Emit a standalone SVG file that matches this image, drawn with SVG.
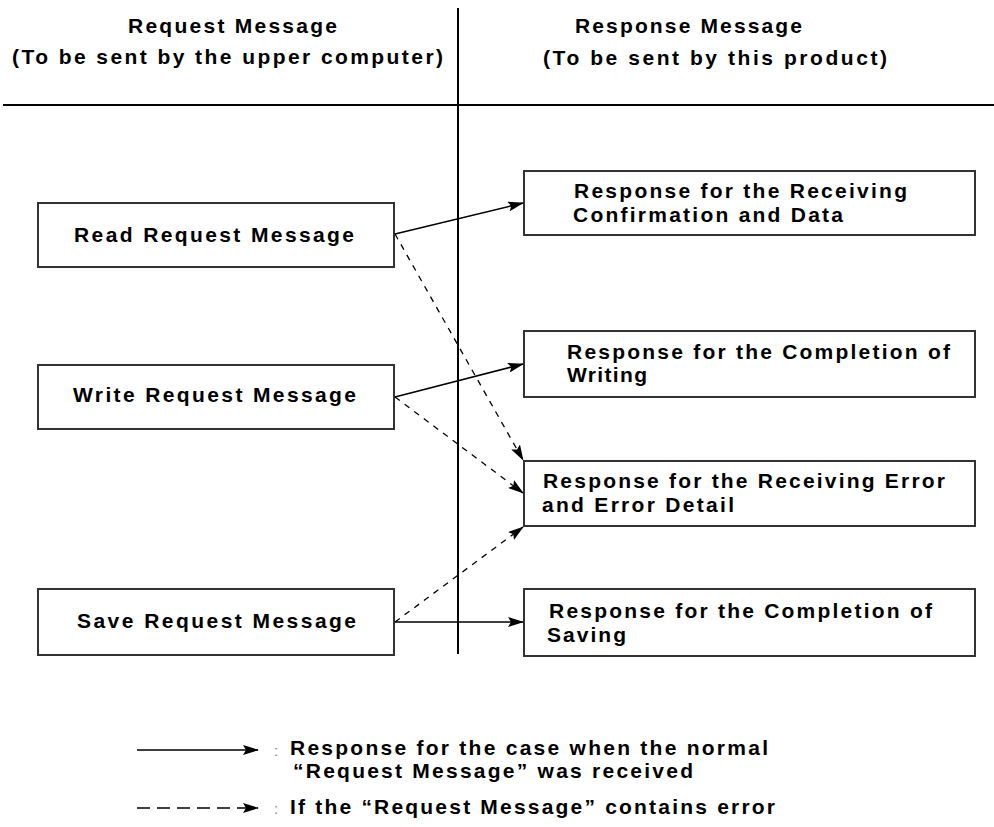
<svg xmlns="http://www.w3.org/2000/svg" width="994" height="827" viewBox="0 0 994 827">
  <style>
    .bg { fill: #ffffff; }
    .box { fill: #ffffff; stroke: #333333; stroke-width: 2; }
    .t { font-family: "Liberation Sans", Arial, sans-serif; font-weight: bold; font-size: 21px; fill: #000000; }
    .hdr { font-family: "Liberation Sans", Arial, sans-serif; font-weight: bold; font-size: 21px; fill: #000000; }
    .colon { font-family: "Liberation Sans", Arial, sans-serif; font-size: 15px; fill: #888888; }
    .rule { stroke: #000000; stroke-width: 2; fill: none; }
    .solid { stroke: #000000; stroke-width: 1.5; fill: none; marker-end: url(#arrow); }
    .dashed { stroke: #000000; stroke-width: 1.3; fill: none; stroke-dasharray: 6 6; marker-end: url(#arrow); }
    .legdash { stroke: #000000; stroke-width: 1.5; fill: none; stroke-dasharray: 13 7; marker-end: url(#arrow); }
  </style>
  <defs>
    <marker id="arrow" viewBox="0 0 16 10" refX="15" refY="5" markerWidth="16" markerHeight="10" markerUnits="userSpaceOnUse" orient="auto">
      <path d="M0,0 L16,5 L0,10 L3,5 Z" fill="#000000"/>
    </marker>
  </defs>
  <rect class="bg" x="0" y="0" width="994" height="827"/>

  <g id="header">
    <text class="hdr" x="128" y="33" textLength="209">Request Message</text>
    <text class="hdr" x="12" y="64" textLength="431">(To be sent by the upper computer)</text>
    <text class="hdr" x="575" y="33" textLength="227">Response Message</text>
    <text class="hdr" x="543" y="65" textLength="344">(To be sent by this product)</text>
    <line class="rule" x1="3" y1="105" x2="994" y2="105"/>
    <line class="rule" x1="458" y1="8" x2="458" y2="654"/>
  </g>

  <g id="read-request">
    <rect class="box" x="38" y="203" width="356" height="64"/>
    <text class="t" x="74" y="242" textLength="280">Read Request Message</text>
  </g>
  <g id="write-request">
    <rect class="box" x="38" y="365" width="356" height="64"/>
    <text class="t" x="73" y="402" textLength="283">Write Request Message</text>
  </g>
  <g id="save-request">
    <rect class="box" x="38" y="589" width="356" height="66"/>
    <text class="t" x="77" y="628" textLength="279">Save Request Message</text>
  </g>

  <g id="resp-confirmation">
    <rect class="box" x="524" y="171" width="451" height="64"/>
    <text class="t" x="574" y="198" textLength="333">Response for the Receiving</text>
    <text class="t" x="573" y="222" textLength="270">Confirmation and Data</text>
  </g>
  <g id="resp-writing">
    <rect class="box" x="524" y="331" width="451" height="66"/>
    <text class="t" x="567" y="359" textLength="383">Response for the Completion of</text>
    <text class="t" x="567" y="382" textLength="80">Writing</text>
  </g>
  <g id="resp-error">
    <rect class="box" x="524" y="461" width="451" height="65"/>
    <text class="t" x="543" y="488" textLength="402">Response for the Receiving Error</text>
    <text class="t" x="542" y="512" textLength="192">and Error Detail</text>
  </g>
  <g id="resp-saving">
    <rect class="box" x="524" y="589" width="451" height="67"/>
    <text class="t" x="549" y="618" textLength="383">Response for the Completion of</text>
    <text class="t" x="547" y="642" textLength="79">Saving</text>
  </g>

  <g id="connectors">
    <line class="solid" x1="395" y1="234" x2="523" y2="203"/>
    <line class="dashed" x1="395" y1="234" x2="523" y2="460"/>
    <line class="solid" x1="395" y1="397" x2="523" y2="364"/>
    <line class="dashed" x1="395" y1="397" x2="523" y2="493"/>
    <line class="dashed" x1="395" y1="622" x2="523" y2="527"/>
    <line class="solid" x1="395" y1="622" x2="523" y2="622"/>
  </g>

  <g id="legend">
    <line class="solid" x1="137" y1="750" x2="258" y2="750"/>
    <text class="colon" x="274" y="756">:</text>
    <text class="t" x="290" y="755" textLength="478">Response for the case when the normal</text>
    <text class="t" x="293" y="778" textLength="400">“Request Message” was received</text>
    <line class="legdash" x1="137" y1="808" x2="258" y2="808"/>
    <text class="colon" x="274" y="814">:</text>
    <text class="t" x="290" y="814" textLength="485">If the “Request Message” contains error</text>
  </g>
</svg>
